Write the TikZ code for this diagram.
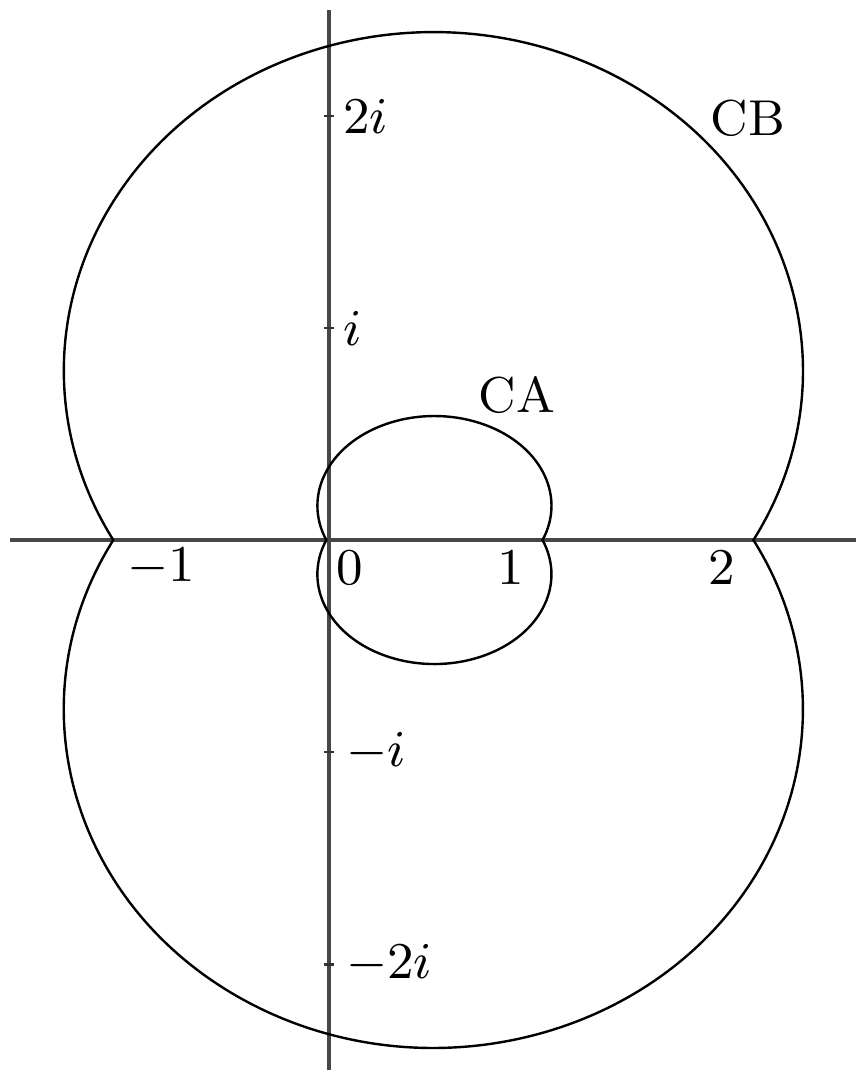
\documentclass[tikz,border=0pt]{standalone}
\begin{document}
\begin{tikzpicture}[x=1.3cm,y=1.3cm,
  axisline/.style={line width=0.7pt,black!72},
  curve/.style={line width=0.42pt,black},
  ticklabel/.style={inner sep=0pt,font=\fontsize{9.5}{11}\selectfont},
  curvelabel/.style={inner sep=0pt,font=\fontsize{8.8}{10}\selectfont}]
\useasboundingbox (-1.552,-2.509) rectangle (2.486,2.547);
% axes
\coordinate (xl) at (-1.505,0);
\coordinate (xr) at (2.486,0);
\coordinate (yb) at (0,-2.50);
\coordinate (yt) at (0,2.50);
\draw[axisline] (xl) -- (xr);
\draw[axisline] (yb) -- (yt);
% ticks on imaginary axis
\foreach \k in {-2,-1,1,2}{
  \draw[line width=0.5pt,black!80] (-0.025,\k) -- (0.025,\k);
}
% tick labels
\node[ticklabel,anchor=west] (l2i) at (0.062,2) {$2i$};
\node[ticklabel,anchor=west] (li) at (0.062,1) {$i$};
\node[ticklabel,anchor=west] (lmi) at (0.075,-1) {$-i$};
\node[ticklabel,anchor=west] (lm2i) at (0.075,-2) {$-2i$};
\node[ticklabel] (lm1) at (-0.792,-0.127) {$-1$};
\node[ticklabel] (l0) at (0.099,-0.132) {$0$};
\node[ticklabel] (l1) at (0.858,-0.132) {$1$};
\node[ticklabel] (l2) at (1.854,-0.132) {$2$};
% curve CB
\coordinate (cbR) at ({0.492+1.743*cos(30)},0);
\draw[curve] (cbR) arc[start angle=-30,end angle=210,x radius=1.743,y radius=1.597]
  arc[start angle=150,end angle=390,x radius=1.743,y radius=1.597] -- cycle;
% curve CA
\coordinate (caR) at ({0.497+0.552*cos(22.5)},0);
\draw[curve] (caR) arc[start angle=-22.5,end angle=202.5,x radius=0.552,y radius=0.423]
  arc[start angle=157.5,end angle=382.5,x radius=0.552,y radius=0.423] -- cycle;
% curve labels
\node[curvelabel] (cb) at (1.976,1.991) {CB};
\node[curvelabel] (ca) at (0.887,0.684) {CA};
\end{tikzpicture}
\end{document}
